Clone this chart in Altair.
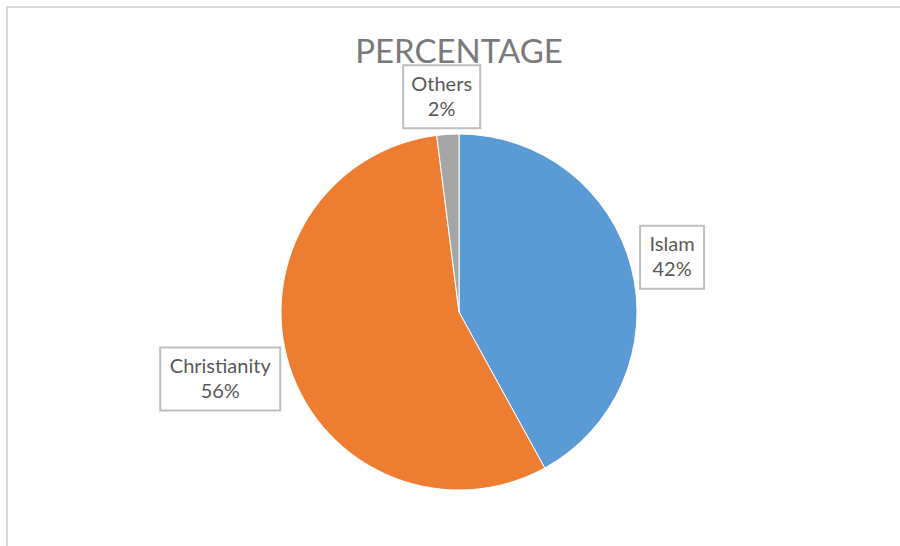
import altair as alt
import pandas as pd

# ---- data ----
categories = ["Islam", "Christianity", "Others"]
values = [42, 56, 2]
colors = ["#5b9bd5", "#ed7d31", "#a5a5a5"]
pct_labels = ["42%", "56%", "2%"]
title_text = "PERCENTAGE"

# ---- layout (not data) ----
CX, CY, R = 459, 312, 178
label_radius = [220, 248, 216]
label_angle_shift = [0.0, 2.3, -1.0]   # degrees
box_width = [64, 120, 77]
BOX_H = 63

df = pd.DataFrame({
    "category": categories,
    "value": values,
    "order": list(range(len(categories))),
    "pct": pct_labels,
    "lr": label_radius,
    "ls": label_angle_shift,
    "bw": box_width,
})

W, H = 900, 546

base = alt.Chart(df)

pie = base.mark_arc(outerRadius=R, stroke="white", strokeWidth=1).encode(
    theta=alt.Theta("value:Q", stack=True),
    order=alt.Order("order:Q"),
    color=alt.Color("category:N", scale=alt.Scale(domain=categories, range=colors), legend=None),
    x=alt.value(CX),
    y=alt.value(CY),
)

lab = base.transform_window(
    cum="sum(value)", sort=[alt.SortField("order")]
).transform_joinaggregate(
    total="sum(value)"
).transform_calculate(
    ang="((datum.cum - datum.value/2) / datum.total) * 2 * PI + datum.ls * PI / 180"
).transform_calculate(
    lx=f"{CX} + datum.lr * sin(datum.ang)",
    ly=f"{CY} - datum.lr * cos(datum.ang)",
).transform_calculate(
    bx1="datum.lx - datum.bw/2",
    bx2="datum.lx + datum.bw/2",
    by1=f"datum.ly - {BOX_H}/2",
    by2=f"datum.ly + {BOX_H}/2",
    txt="[datum.category, datum.pct]",
)

boxes = lab.mark_rect(fill="white", stroke="#bfbfbf", strokeWidth=2).encode(
    x=alt.X("bx1:Q", scale=None),
    x2="bx2:Q",
    y=alt.Y("by1:Q", scale=None),
    y2="by2:Q",
)

texts = lab.mark_text(
    font="Lato", fontSize=20, color="#595959", align="center", baseline="middle",
    lineHeight=25, dy=-12
).encode(
    x=alt.X("lx:Q", scale=None),
    y=alt.Y("ly:Q", scale=None),
    text=alt.Text("txt:N"),
)

title = alt.Chart(pd.DataFrame({"t": [title_text]})).mark_text(
    font="Lato", fontSize=33, color="#7a7a7a", align="center", baseline="alphabetic"
).encode(x=alt.value(CX), y=alt.value(63), text="t:N")

frame_top = alt.Chart(pd.DataFrame({"a": [0]})).mark_rule(color="#d9d9d9", strokeWidth=2).encode(
    x=alt.value(7), x2=alt.value(W), y=alt.value(7)
)
frame_left = alt.Chart(pd.DataFrame({"a": [0]})).mark_rule(color="#d9d9d9", strokeWidth=2).encode(
    x=alt.value(7), y=alt.value(6), y2=alt.value(H)
)

chart = alt.layer(frame_top, frame_left, pie, title, boxes, texts).properties(
    width=W, height=H, padding=0, autosize=alt.AutoSizeParams(type="none"),
    background="white",
).configure_view(stroke=None)

chart.save("out.html", embed_options={"renderer": "svg", "actions": False})
